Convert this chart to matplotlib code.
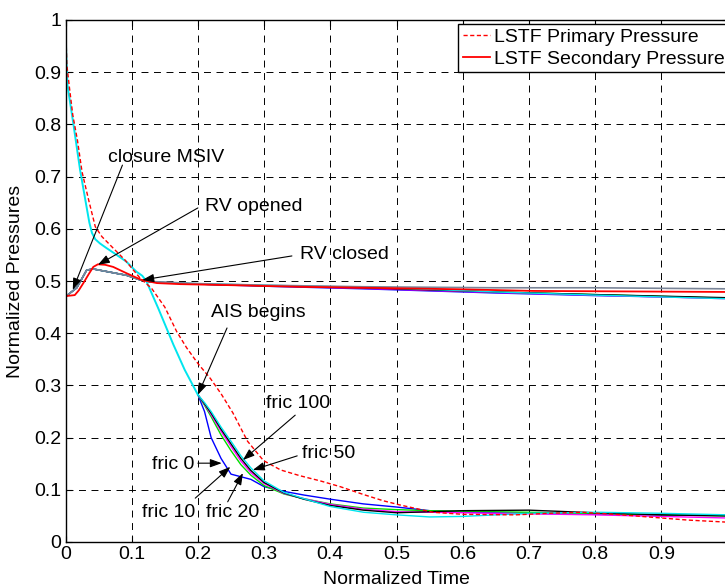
import numpy as np
import matplotlib
matplotlib.use("Agg")
import matplotlib.pyplot as plt
from matplotlib.ticker import FormatStrFormatter

plt.rcParams['font.family'] = ['Liberation Sans', 'DejaVu Sans']
plt.rcParams['lines.scale_dashes'] = False

# ---- LSTF experiment ----
t_lstf_prim = [0, 0.002, 0.006, 0.011, 0.018, 0.025, 0.035, 0.045, 0.055, 0.072,
               0.09, 0.113, 0.13, 0.15, 0.168, 0.183, 0.2, 0.219, 0.235, 0.253,
               0.275, 0.299, 0.325, 0.354, 0.385, 0.415, 0.45, 0.48, 0.505, 0.555,
               0.6, 0.68, 0.73, 0.78, 0.83, 0.88, 0.94, 1.0]
p_lstf_prim = [1.0, 0.914, 0.87, 0.818, 0.77, 0.709, 0.655, 0.604, 0.585, 0.563,
               0.54, 0.505, 0.486, 0.45, 0.403, 0.372, 0.342, 0.313, 0.284, 0.247,
               0.193, 0.156, 0.138, 0.127, 0.117, 0.106, 0.091, 0.079, 0.071, 0.057,
               0.053, 0.052, 0.055, 0.057, 0.053, 0.048, 0.042, 0.038]

t_lstf_sec = [0, 0.014, 0.02, 0.027, 0.035, 0.042, 0.049, 0.06, 0.072, 0.092,
              0.115, 0.138, 0.173, 0.25, 0.35, 0.505, 0.6, 0.706, 0.85, 1.0]
p_lstf_sec = [0.471, 0.473, 0.482, 0.496, 0.513, 0.527, 0.532, 0.531, 0.527, 0.515,
              0.502, 0.496, 0.494, 0.492, 0.489, 0.486, 0.484, 0.481, 0.48, 0.479]

# ---- simulations, primary side (common until AIS begins) ----
t_sim_early = [0, 0.001, 0.003, 0.006, 0.012, 0.022, 0.03, 0.036, 0.04, 0.045,
               0.052, 0.062, 0.075, 0.092, 0.107, 0.116, 0.122, 0.13, 0.14, 0.163,
               0.18, 0.2]
p_sim_early = [1.0, 0.94, 0.875, 0.85, 0.80, 0.713, 0.655, 0.612, 0.592, 0.58,
               0.572, 0.563, 0.552, 0.537, 0.518, 0.51, 0.5, 0.477, 0.448, 0.378,
               0.33, 0.282]

t_sim_late = [0.2, 0.21, 0.22, 0.235, 0.25, 0.265, 0.28, 0.3, 0.33, 0.36,
              0.4, 0.45, 0.5, 0.55, 0.6, 0.7, 0.8, 0.9, 1.0]
p_fric0 = [0.282, 0.25, 0.20, 0.16, 0.13, 0.125, 0.12, 0.106, 0.097, 0.09,
           0.082, 0.073, 0.067, 0.06, 0.057, 0.055, 0.053, 0.052, 0.051]
p_fric10 = [0.282, 0.262, 0.24, 0.205, 0.175, 0.148, 0.128, 0.108, 0.092, 0.083,
            0.073, 0.065, 0.062, 0.06, 0.059, 0.057, 0.054, 0.052, 0.05]
p_fric20 = [0.282, 0.264, 0.244, 0.212, 0.183, 0.155, 0.133, 0.112, 0.093, 0.083,
            0.072, 0.063, 0.058, 0.057, 0.056, 0.054, 0.052, 0.049, 0.046]
p_fric50 = [0.282, 0.265, 0.247, 0.216, 0.188, 0.16, 0.137, 0.114, 0.094, 0.082,
            0.07, 0.061, 0.056, 0.058, 0.06, 0.061, 0.056, 0.052, 0.05]
p_fric100 = [0.282, 0.267, 0.25, 0.22, 0.193, 0.165, 0.142, 0.117, 0.095, 0.083,
             0.068, 0.057, 0.052, 0.048, 0.049, 0.055, 0.057, 0.055, 0.052]

# ---- simulations, secondary side ----
t_sim_sec = [0, 0.007, 0.017, 0.025, 0.032, 0.042, 0.067, 0.092, 0.113, 0.13,
             0.2, 0.3, 0.45, 0.55, 0.65, 0.8, 1.0]
s_fric0 = [0.47, 0.477, 0.487, 0.505, 0.521, 0.523, 0.517, 0.511, 0.502, 0.498,
           0.494, 0.490, 0.485, 0.481, 0.477, 0.472, 0.467]
s_fric10 = [0.47, 0.477, 0.487, 0.505, 0.521, 0.523, 0.517, 0.511, 0.502, 0.498,
            0.494, 0.491, 0.487, 0.483, 0.479, 0.474, 0.467]
s_fric20 = [0.47, 0.477, 0.487, 0.505, 0.521, 0.523, 0.517, 0.511, 0.502, 0.498,
            0.494, 0.491, 0.486, 0.482, 0.478, 0.473, 0.466]
s_fric50 = [0.47, 0.477, 0.487, 0.505, 0.521, 0.523, 0.517, 0.511, 0.502, 0.498,
            0.494, 0.491, 0.487, 0.483, 0.479, 0.474, 0.468]
s_fric100 = [0.47, 0.477, 0.487, 0.505, 0.521, 0.523, 0.517, 0.511, 0.502, 0.498,
             0.495, 0.492, 0.488, 0.484, 0.479, 0.473, 0.466]
s_ref = [0.47, 0.477, 0.487, 0.505, 0.521, 0.523, 0.517, 0.511, 0.502, 0.499,
         0.495, 0.492, 0.489, 0.488, 0.487, 0.487, 0.485]

fric_prim = [p_fric0, p_fric10, p_fric20, p_fric50, p_fric100]
fric_sec = [s_fric0, s_fric10, s_fric20, s_fric50, s_fric100]
fric_colors = ['#0000ff', '#00dd00', '#ff00ff', '#000000', '#00e5ee']

x_ticks = [0, 0.1, 0.2, 0.3, 0.4, 0.5, 0.6, 0.7, 0.8, 0.9]
y_ticks = [0, 0.1, 0.2, 0.3, 0.4, 0.5, 0.6, 0.7, 0.8, 0.9, 1.0]

fs = 14
fig = plt.figure(figsize=(7.25, 5.87), dpi=100)
ax = fig.add_axes([65.5 / 725, 45 / 587, 662 / 725, 522 / 587])

for s, c in zip(fric_sec, fric_colors):
    ax.plot(t_sim_sec, s, color=c, lw=1.0)
ax.plot(t_sim_sec, s_ref, color='#7a8598', lw=1.2)

for p, c in zip(fric_prim, fric_colors):
    ax.plot(t_sim_late, p, color=c, lw=1.0)
ax.plot(t_sim_early, p_sim_early, color=fric_colors[-1], lw=1.4)

l_sec, = ax.plot(t_lstf_sec, p_lstf_sec, color='#ff0000', lw=1.3,
                 label='LSTF Secondary Pressure')
l_prim, = ax.plot(t_lstf_prim, p_lstf_prim, color='#ff0000', lw=1.0,
                  linestyle=(0, (3, 1.8)), label='LSTF Primary Pressure')

ax.set_xlim(0, 1)
ax.set_ylim(0, 1)
ax.set_xticks(x_ticks)
ax.set_yticks(y_ticks)
ax.xaxis.set_major_formatter(FormatStrFormatter('%g'))
ax.yaxis.set_major_formatter(FormatStrFormatter('%g'))
ax.tick_params(direction='in', top=True, right=True, length=4, labelsize=fs, pad=3)
ax.grid(True, color='k', lw=0.7, linestyle=(0, (5, 4)))
for sp in ax.spines.values():
    sp.set_linewidth(1.0)

ax.set_xlabel('Normalized Time', fontsize=fs, labelpad=6)
ax.set_ylabel('Normalized Pressures', fontsize=fs, labelpad=7)

leg = ax.legend(handles=[l_prim, l_sec], loc='upper left', bbox_to_anchor=(0.593, 0.993),
                borderaxespad=0, fontsize=fs, handlelength=1.4, handletextpad=0.2,
                labelspacing=0.2, borderpad=0.25, fancybox=False, framealpha=1)
leg.get_frame().set_edgecolor('k')
leg.get_frame().set_linewidth(1.0)

# annotations: (text, text position, arrow tail, arrow tip)
notes = [
    ('closure MSIV', (0.152, 0.736), (0.086, 0.722), (0.011, 0.483)),
    ('RV opened', (0.285, 0.642), (0.200, 0.640), (0.049, 0.531)),
    ('RV closed', (0.421, 0.550), (0.342, 0.548), (0.116, 0.502)),
    ('AIS begins', (0.292, 0.439), (0.244, 0.410), (0.200, 0.282)),
    ('fric 100', (0.352, 0.266), (0.347, 0.243), (0.268, 0.157)),
    ('fric 50', (0.397, 0.169), (0.350, 0.165), (0.283, 0.138)),
    ('fric 0', (0.162, 0.148), (0.200, 0.151), (0.236, 0.151)),
    ('fric 10', (0.156, 0.057), (0.196, 0.084), (0.249, 0.144)),
    ('fric 20', (0.252, 0.057), (0.245, 0.077), (0.268, 0.132)),
]
for txt, pos, tail, tip in notes:
    ax.text(pos[0], pos[1], txt, fontsize=fs, ha='center', va='center')
    ax.annotate('', xy=tip, xytext=tail,
                arrowprops=dict(arrowstyle='-|>,head_length=0.5,head_width=0.18',
                                color='k', lw=0.8, mutation_scale=14,
                                shrinkA=0, shrinkB=0))

fig.savefig('out.png', dpi=100)
